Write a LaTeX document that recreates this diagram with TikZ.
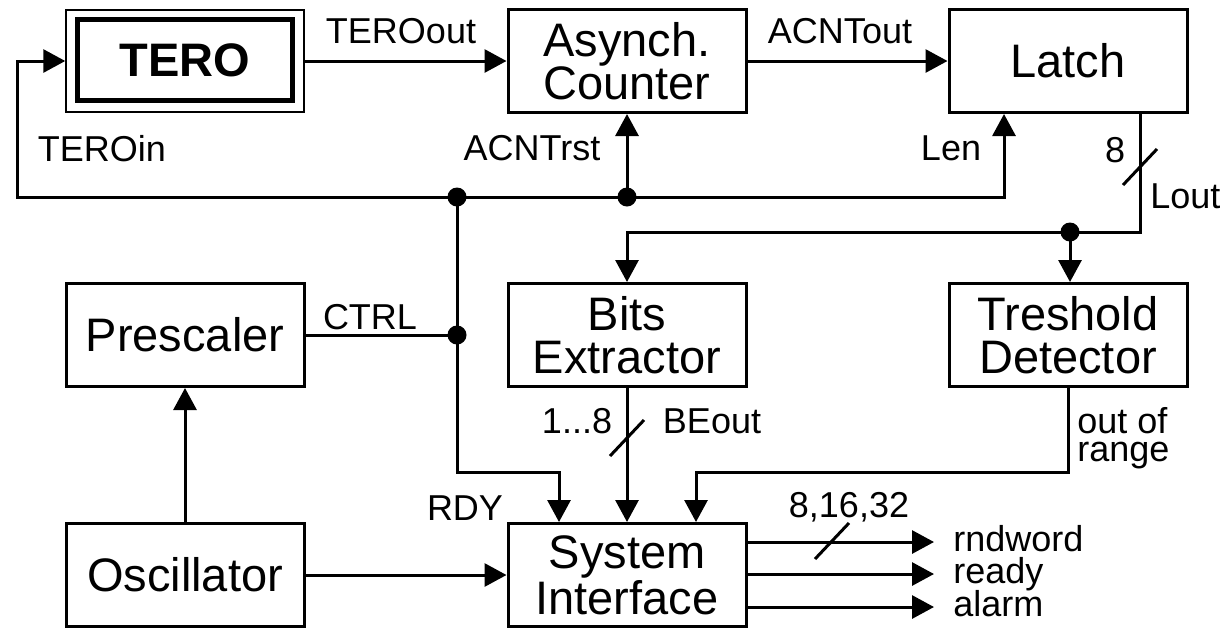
\documentclass[tikz,border=0pt]{standalone}
\usepackage{fontspec}
\setmainfont{Liberation Sans}
\usetikzlibrary{arrows.meta}

\tikzset{
  block/.style={draw, line width=1.5pt, minimum width=119pt, minimum height=51.5pt,
    inner sep=0pt, align=center, font=\fontsize{23.5}{21.5}\selectfont},
  wire/.style={line width=1.5pt},
  arr/.style={wire, -{Triangle[length=11pt,width=11.5pt]}},
  lbl/.style={inner sep=0pt, font=\fontsize{18}{18}\selectfont},
}

\begin{document}
\begin{tikzpicture}[x=0.5pt, y=-0.5pt]
  \useasboundingbox (0,0) rectangle (1224,628);

  % blocks
  \node[block, line width=1pt, minimum width=118.75pt, minimum height=51.25pt] (tero) at (185,61) {};
  \node[block, line width=2.5pt, minimum width=107.5pt, minimum height=40.25pt,
    font=\fontsize{23.5}{21.5}\selectfont\bfseries] (terocore) at (185,60) {TERO};
  \node[block] (acnt) at (627,61) {Asynch.\\Counter};
  \node[block] (latch) at (1068,61) {Latch};
  \node[block] (presc) at (185,335) {Prescaler};
  \node[block] (bits) at (627,335) {Bits\\Extractor};
  \node[block] (thr) at (1068,335) {Treshold\\Detector};
  \node[block] (osc) at (185,575) {Oscillator};
  \node[block] (sysif) at (627,575) {System\\Interface};

  % junctions and bends
  \coordinate (j1) at (457,197);
  \coordinate (j2) at (627,197);
  \coordinate (jc) at (457,335);
  \coordinate (jt) at (1070,232);
  \coordinate (fb) at (17,197);
  \coordinate (len) at (1004,197);
  \coordinate (lo) at (1140,232);
  \coordinate (rdy) at (457,472);

  % connectors
  \draw[arr] (tero.east) -- (acnt.west);
  \draw[arr] (acnt.east) -- (latch.west);
  \draw[arr] (j1) -- (fb) |- (tero.west);
  \draw[wire] (j1) -- (j2);
  \draw[arr] (j2) -- (acnt.south);
  \draw[arr] (j2) -- (len) -- (len |- latch.south);
  \draw[arr] (lo |- latch.south) -- (lo) -| (bits.north);
  \draw[arr] (jt) -- (jt |- thr.north);
  \draw[wire] (presc.east) -- (jc);
  \draw[arr] (j1) -- (jc) -- (rdy) -| ([xshift=-34pt]sysif.north);
  \draw[arr] (bits.south) -- (sysif.north);
  \draw[arr] (thr.south) -- (thr.south |- rdy) -| ([xshift=34.5pt]sysif.north);
  \draw[arr] (osc.north) -- (presc.south);
  \draw[arr] (osc.east) -- (sysif.west);

  \foreach \p in {j1, j2, jc, jt}
    \fill (\p) circle (4.75pt);

  % bus slashes
  \coordinate (s1) at (1140,167);
  \coordinate (s2) at (627,438);
  \coordinate (s3) at (832,541);
  \foreach \s in {s1, s2, s3}
    \draw[wire] ([shift={(-17,18)}]\s) -- ([shift={(17,-18)}]\s);

  % outputs
  \foreach \n/\y/\t in {
    rndword/542/rndword,
    ready/574/ready,
    alarm/607/alarm
  }{
    \coordinate (\n) at (934,\y);
    \draw[arr] (sysif.east |- \n) -- (\n);
    \node[lbl, anchor=base west] (\n-lbl) at (953,\y+9) {\t};
  }

  % signal names
  \node[lbl, anchor=base] (l-teroout) at (401,43) {TEROout};
  \node[lbl, anchor=base] (l-acntout) at (840,43) {ACNTout};
  \node[lbl, anchor=base] (l-teroin) at (102,161) {TEROin};
  \node[lbl, anchor=base] (l-acntrst) at (532,160) {ACNTrst};
  \node[lbl, anchor=base] (l-len) at (951,160) {Len};
  \node[lbl, anchor=base] (l-8) at (1115,162) {8};
  \node[lbl, anchor=base west] (l-lout) at (1150,208) {Lout};
  \node[lbl, anchor=base] (l-ctrl) at (370,329) {CTRL};
  \node[lbl, anchor=base] (l-bits) at (577,433) {1...8};
  \node[lbl, anchor=base] (l-beout) at (712,433) {BEout};
  \node[lbl, anchor=base west] (l-outof) at (1077,433) {out of};
  \node[lbl, anchor=base west] (l-range) at (1077,461) {range};
  \node[lbl, anchor=base] (l-rdy) at (465,520) {RDY};
  \node[lbl, anchor=base] (l-width) at (849,517) {8,16,32};
\end{tikzpicture}
\end{document}
